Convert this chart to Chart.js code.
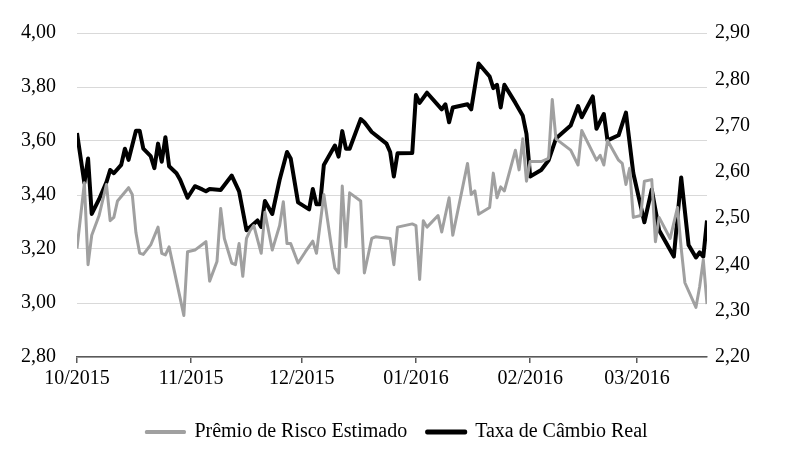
<!DOCTYPE html>
<html>
<head>
<meta charset="utf-8">
<script src="https://cdn.jsdelivr.net/npm/chart.js@4.4.1/dist/chart.umd.min.js"></script>
<style>
  html, body { margin: 0; padding: 0; background: #fff; }
</style>
</head>
<body>
<canvas id="grafico" width="794" height="467"></canvas>
<script>
/*- DADOS (dias contados a partir de 01/10/2015)
-----------------------------------------------------------------------*/
const tickDays = [0, 31, 61, 92, 123, 152];
const tickLabels = ["10/2015", "11/2015", "12/2015", "01/2016", "02/2016", "03/2016"];

// Prêmio de Risco Estimado (eixo esquerdo)
const premioDias = [0, 2, 3, 4, 6, 8, 9, 10, 11, 14, 15, 16, 17, 18, 20, 22, 23, 24, 25, 29,
  30, 32, 35, 36, 38, 39, 40, 42, 43, 44, 45, 46, 47, 48, 50, 51, 53, 55, 56, 57,
  58, 60, 62, 64, 65, 67, 69, 70, 71, 72, 73, 74, 77, 78, 80, 81, 85, 86, 87, 91,
  92, 93, 94, 95, 98, 99, 101, 102, 106, 107, 108, 109, 112, 113, 114, 115, 116, 119, 120, 121,
  122, 123, 126, 128, 129, 130, 134, 136, 137, 141, 142, 143, 144, 147, 148, 149, 150, 151, 153, 154,
  156, 157, 158, 161, 163, 164, 165, 168, 169, 170, 171];
const premioValores = [3.202, 3.445, 3.142, 3.251, 3.324, 3.439, 3.305, 3.317, 3.378, 3.427, 3.402, 3.26, 3.185, 3.18, 3.215, 3.281, 3.184, 3.178, 3.208, 2.954,
  3.19, 3.196, 3.227, 3.081, 3.154, 3.350, 3.239, 3.148, 3.142, 3.220, 3.099, 3.239, 3.269, 3.287, 3.184, 3.336, 3.196, 3.287, 3.375, 3.220,
  3.220, 3.148, 3.190, 3.229, 3.184, 3.402, 3.214, 3.129, 3.111, 3.433, 3.208, 3.408, 3.378, 3.111, 3.239, 3.245, 3.239, 3.142, 3.281, 3.293,
  3.287, 3.087, 3.305, 3.281, 3.324, 3.263, 3.390, 3.251, 3.517, 3.402, 3.415, 3.329, 3.354, 3.481, 3.390, 3.430, 3.415, 3.566, 3.493, 3.608,
  3.451, 3.524, 3.524, 3.536, 3.754, 3.608, 3.566, 3.511, 3.639, 3.529, 3.547, 3.511, 3.602, 3.529, 3.517, 3.439, 3.499, 3.317, 3.324, 3.451,
  3.457, 3.227, 3.317, 3.239, 3.354, 3.202, 3.075, 2.984, 3.06, 3.16, 2.996];

// Taxa de Câmbio Real (eixo direito)
const cambioDias = [0, 2, 3, 4, 6, 8, 9, 10, 12, 13, 14, 16, 17, 18, 20, 21, 22, 23, 24, 25,
  27, 28, 30, 32, 34, 35, 36, 39, 42, 44, 46, 49, 50, 51, 53, 55, 57, 58, 60, 63,
  64, 65, 66, 67, 70, 71, 72, 73, 74, 77, 78, 80, 84, 85, 86, 87, 91, 92, 93, 95,
  99, 100, 101, 102, 106, 107, 109, 112, 113, 114, 115, 116, 119, 121, 122, 123, 126, 128, 130, 134,
  136, 137, 140, 141, 143, 144, 147, 149, 151, 154, 156, 158, 162, 164, 166, 168, 169, 170, 171];
const cambioValores = [2.684, 2.576, 2.629, 2.509, 2.541, 2.578, 2.604, 2.597, 2.615, 2.650, 2.626, 2.689, 2.689, 2.650, 2.634, 2.608, 2.661, 2.622, 2.675, 2.612,
  2.597, 2.583, 2.544, 2.569, 2.562, 2.558, 2.563, 2.561, 2.592, 2.558, 2.474, 2.495, 2.481, 2.537, 2.509, 2.583, 2.643, 2.629, 2.534, 2.519,
  2.563, 2.530, 2.530, 2.615, 2.657, 2.633, 2.688, 2.650, 2.650, 2.714, 2.707, 2.686, 2.661, 2.643, 2.590, 2.640, 2.641, 2.766, 2.749, 2.771,
  2.735, 2.746, 2.707, 2.739, 2.746, 2.735, 2.834, 2.806, 2.781, 2.788, 2.739, 2.788, 2.749, 2.721, 2.682, 2.590, 2.604, 2.625, 2.672, 2.700,
  2.742, 2.718, 2.763, 2.693, 2.725, 2.668, 2.679, 2.728, 2.597, 2.491, 2.562, 2.474, 2.417, 2.588, 2.442, 2.415, 2.426, 2.417, 2.495];

/*- GRAFICO
-----------------------------------------------------------------------*/
const fonte = { family: "'Liberation Serif', 'Times New Roman', serif", size: 20 };
const virgula = v => v.toFixed(2).replace('.', ',');

new Chart(document.getElementById("grafico"), {
  type: 'line',
  data: {
    datasets: [
      {
        label: "Prêmio de Risco Estimado",
        data: premioDias.map((d, i) => ({ x: d, y: premioValores[i] })),
        borderColor: "#a0a0a0",
        backgroundColor: "#a0a0a0",
        borderWidth: 3,
        yAxisID: 'yL'
      }, {
        label: "Taxa de Câmbio Real",
        data: cambioDias.map((d, i) => ({ x: d, y: cambioValores[i] })),
        borderColor: "#000000",
        backgroundColor: "#000000",
        borderWidth: 4,
        yAxisID: 'yR'
      }
    ]
  },
  options: {
    responsive: false,
    animation: false,
    elements: { point: { radius: 0 }, line: { tension: 0, borderJoinStyle: 'round' } },
    layout: { padding: { top: 27, bottom: 15, left: 0, right: 0 } },
    plugins: {
      tooltip: { enabled: false },
      legend: {
        position: 'bottom',
        labels: { font: fonte, color: '#000', boxWidth: 38, boxHeight: 1, padding: 20 }
      }
    },
    scales: {
      x: {
        type: 'linear',
        min: 0,
        max: 171,
        afterBuildTicks: axis => { axis.ticks = tickDays.map(v => ({ value: v })); },
        afterFit: scale => { scale.height = 45; },
        ticks: {
          font: fonte, color: '#000', padding: 4, maxRotation: 0, autoSkip: false,
          callback: v => tickLabels[tickDays.indexOf(v)]
        },
        grid: { drawOnChartArea: false, drawTicks: true, tickLength: 6, color: '#595959', lineWidth: 1.5 },
        border: { color: '#595959', width: 1.5 }
      },
      yL: {
        position: 'left',
        min: 2.8,
        max: 4.0,
        afterFit: scale => { scale.width = 77; },
        ticks: { stepSize: 0.2, font: fonte, color: '#000', padding: 21, callback: virgula },
        grid: { color: '#d9d9d9', lineWidth: 1, drawTicks: false },
        border: { display: false }
      },
      yR: {
        position: 'right',
        min: 2.2,
        max: 2.9,
        afterFit: scale => { scale.width = 87; },
        ticks: { stepSize: 0.1, font: fonte, color: '#000', padding: 8, callback: virgula },
        grid: { drawOnChartArea: false, drawTicks: false },
        border: { display: false }
      }
    }
  }
});
</script>
</body>
</html>
